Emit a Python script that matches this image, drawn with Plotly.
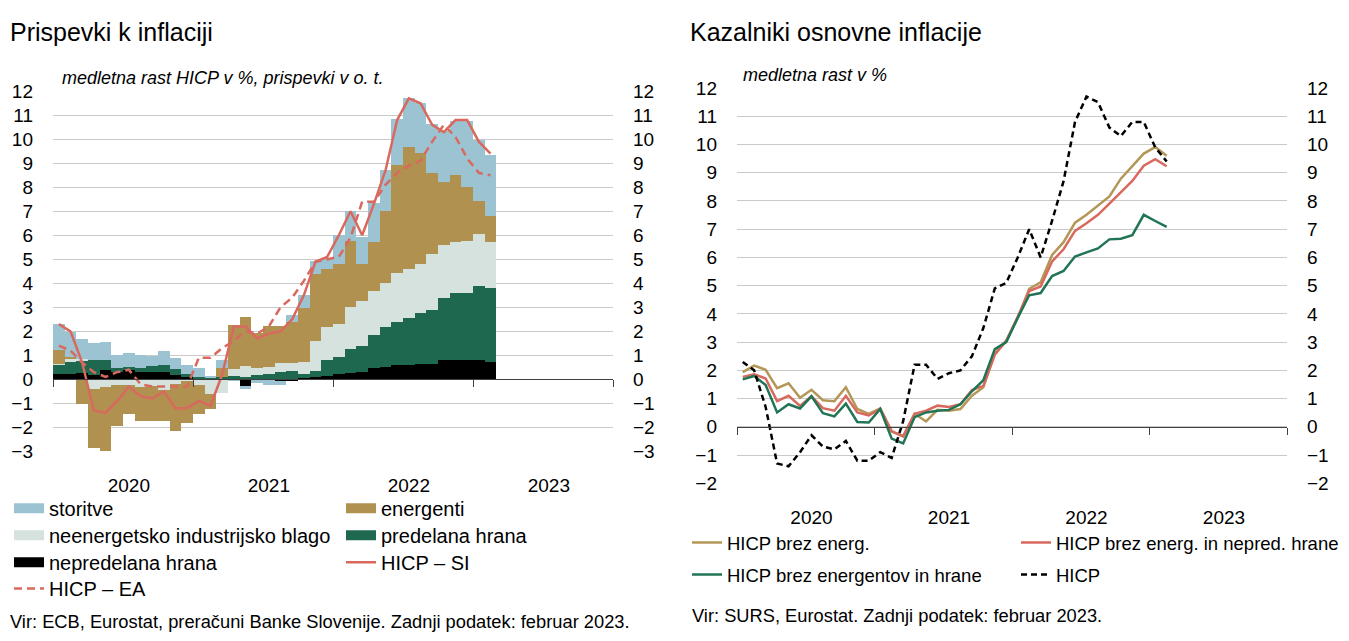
import plotly.graph_objects as go

# ---------------- data ----------------
months = [f"{y}-{m:02d}" for y in (2020, 2021, 2022) for m in range(1, 13)] + ["2023-01", "2023-02"]
year_labels = ["2020", "2021", "2022", "2023"]

# contributions to Slovenian HICP (p.p.)
nepredelana_hrana = [0.20, 0.20, 0.24, 0.17, 0.38, 0.30, 0.38, 0.31, 0.30, 0.28, 0.17, 0.08,
                     0.04, 0.02, 0.03, -0.03, -0.27, -0.05, -0.05, -0.08, -0.10, 0.03, 0.09, 0.13,
                     0.20, 0.27, 0.31, 0.47, 0.50, 0.58, 0.60, 0.63, 0.63, 0.78, 0.78, 0.78,
                     0.81, 0.71]
predelana_hrana = [0.40, 0.51, 0.54, 0.61, 0.40, 0.15, 0.12, 0.15, 0.25, 0.32, 0.23, 0.12,
                   0.06, 0.06, 0.07, 0.12, 0.10, 0.17, 0.22, 0.31, 0.34, 0.20, 0.25, 0.68,
                   0.70, 0.98, 1.06, 1.37, 1.65, 1.81, 1.95, 2.13, 2.26, 2.58, 2.81, 2.81,
                   3.05, 3.09]
neenergetsko_blago = [0.02, 0.14, 0.05, -0.43, -0.34, -0.26, -0.26, -0.34, -0.30, -0.47, -0.20, -0.10,
                      -0.25, -0.63, -0.60, 0.28, 0.45, 0.30, 0.30, 0.34, 0.33, 0.48, 1.23, 1.34,
                      1.38, 1.77, 1.88, 1.83, 1.84, 2.01, 2.02, 2.04, 2.31, 2.22, 2.12, 2.15,
                      2.19, 1.91]
energenti = [0.58, 0.09, -1.05, -2.42, -2.67, -1.70, -1.18, -1.40, -1.45, -1.27, -1.95, -1.74,
             -1.22, -0.61, 0.38, 1.86, 2.02, 1.45, 1.70, 1.57, 1.72, 2.25, 2.80, 2.42,
             2.52, 2.72, 1.55, 2.02, 3.00, 4.50, 5.11, 4.61, 3.40, 2.65, 2.80, 2.28,
             1.38, 1.10]
storitve = [1.08, 1.03, 0.85, 0.74, 0.77, 0.55, 0.59, 0.55, 0.42, 0.56, 0.47, 0.40,
            0.37, 0.02, 0.30, -0.03, -0.13, -0.10, -0.20, -0.15, 0.30, 0.53, 0.53, 0.47,
            1.20, 1.28, 1.11, 1.64, 1.71, 1.92, 2.01, 2.11, 2.02, 2.12, 2.24, 2.73,
            2.52, 2.53]

hicp_si = [2.3, 2.0, 0.7, -1.3, -1.4, -0.9, -0.3, -0.7, -0.8, -0.5, -1.2, -1.2,
           -0.9, -1.1, 0.2, 2.2, 2.2, 1.7, 1.9, 2.0, 2.5, 3.5, 4.9, 5.1,
           6.0, 7.0, 6.0, 7.3, 8.7, 10.8, 11.7, 11.5, 10.6, 10.3, 10.8, 10.8,
           9.9, 9.4]
hicp_ea = [1.4, 1.2, 0.7, 0.3, 0.1, 0.3, 0.4, -0.2, -0.3, -0.3, -0.3, -0.3,
           0.9, 0.9, 1.3, 1.6, 2.0, 1.9, 2.2, 3.0, 3.4, 4.1, 4.9, 5.0,
           5.1, 5.9, 7.4, 7.4, 8.1, 8.6, 8.9, 9.1, 9.9, 10.6, 10.1, 9.2,
           8.6, 8.5]

# core inflation indicators (y/y %)
brez_energ = [1.94, 2.17, 2.02, 1.37, 1.54, 1.03, 1.31, 0.94, 0.91, 1.40, 0.63, 0.46,
              0.65, -0.17, -0.34, 0.46, 0.19, 0.60, 0.57, 0.63, 1.10, 1.40, 2.60, 3.05,
              3.86, 4.89, 5.12, 6.09, 6.54, 7.23, 7.51, 7.82, 8.16, 8.79, 9.23, 9.68,
              9.91, 9.60]
brez_energ_nepred = [1.77, 1.86, 1.71, 0.91, 1.10, 0.74, 1.08, 0.66, 0.57, 1.10, 0.51, 0.40,
                     0.63, -0.15, -0.34, 0.46, 0.57, 0.75, 0.70, 0.80, 1.30, 1.45, 2.55, 3.05,
                     3.90, 4.81, 4.97, 5.86, 6.29, 6.94, 7.21, 7.51, 7.91, 8.31, 8.71, 9.25,
                     9.48, 9.23]
brez_energ_hrane = [1.68, 1.80, 1.48, 0.51, 0.80, 0.65, 1.08, 0.48, 0.37, 0.82, 0.17, 0.15,
                    0.63, -0.42, -0.59, 0.34, 0.51, 0.57, 0.60, 0.80, 1.26, 1.65, 2.75, 3.00,
                    3.86, 4.66, 4.74, 5.34, 5.52, 6.03, 6.18, 6.32, 6.64, 6.66, 6.79, 7.51,
                    7.29, 7.08]

# ---------------- styling ----------------
W, H = 1349, 641
FONT = "Liberation Sans, Arial, sans-serif"
GRID = "#CACACA"
AXIS = "#404040"

C_STOR = "#9BC3D2"
C_ENER = "#B0914F"
C_NEIG = "#D5E2DE"
C_PRED = "#1F6850"
C_NEPR = "#000000"
C_SI = "#D9695F"
C_GOLD = "#B49757"
C_RED = "#D9695F"
C_GREEN = "#217555"

xpos = list(range(len(months)))
year_mid = [12 * k + 6 for k in range(len(year_labels))]
year_edges = [12 * k - 0.5 for k in range(len(year_labels) + 1)]
XR = [-0.5, 12 * len(year_labels) - 0.5]


def px_x(p):
    return p / W


def px_y(p):
    return 1 - p / H


L_dom_x = [px_x(53), px_x(613)]
L_dom_y = [px_y(456.3), px_y(84)]
R_dom_x = [px_x(737), px_x(1287)]
R_dom_y = [px_y(489.3), px_y(80.7)]
L_rng = [-3, 12]
R_rng = [-2, 12]

L_zero = L_dom_y[0] + (0 - L_rng[0]) / (L_rng[1] - L_rng[0]) * (L_dom_y[1] - L_dom_y[0])
R_zero = R_dom_y[0] + (0 - R_rng[0]) / (R_rng[1] - R_rng[0]) * (R_dom_y[1] - R_dom_y[0])

fig = go.Figure()

bars = [
    ("nepredelana hrana", nepredelana_hrana, C_NEPR, "legend3", 1),
    ("predelana hrana", predelana_hrana, C_PRED, "legend2", 2),
    ("neenergetsko industrijsko blago", neenergetsko_blago, C_NEIG, "legend2", 1),
    ("energenti", energenti, C_ENER, "legend", 2),
    ("storitve", storitve, C_STOR, "legend", 1),
]
for name, vals, col, lg, rank in bars:
    fig.add_trace(go.Bar(x=xpos, y=vals, name=name, marker=dict(color=col, line=dict(width=0)),
                         customdata=months, hovertemplate="%{customdata}: %{y}<extra>" + name + "</extra>",
                         legendgroup=name, showlegend=False, xaxis="x", yaxis="y"))
    # legend swatch (wide rectangle like the original)
    fig.add_trace(go.Scatter(x=[None], y=[None], mode="lines", name=name, legendgroup=name,
                             line=dict(color=col, width=10), legend=lg, legendrank=rank,
                             xaxis="x", yaxis="y", hoverinfo="skip"))

fig.add_trace(go.Scatter(x=xpos, y=hicp_ea, mode="lines", name="HICP – EA",
                         line=dict(color=C_SI, width=2.5, dash="8px,5px"),
                         legend="legend4", legendrank=1, customdata=months,
                         hovertemplate="%{customdata}: %{y}<extra>HICP – EA</extra>",
                         xaxis="x", yaxis="y"))
fig.add_trace(go.Scatter(x=xpos, y=hicp_si, mode="lines", name="HICP – SI",
                         line=dict(color=C_SI, width=2.5),
                         legend="legend3", legendrank=2, customdata=months,
                         hovertemplate="%{customdata}: %{y}<extra>HICP – SI</extra>",
                         xaxis="x", yaxis="y"))

# right panel
right = [
    ("HICP brez energ.", brez_energ, C_GOLD, "solid", "legend5", 1),
    ("HICP brez energ. in nepred. hrane", brez_energ_nepred, C_RED, "solid", "legend5", 2),
    ("HICP brez energentov in hrane", brez_energ_hrane, C_GREEN, "solid", "legend6", 1),
    ("HICP", hicp_si, "#000000", "6px,4px", "legend6", 2),
]
for name, vals, col, dash, lg, rank in right:
    fig.add_trace(go.Scatter(x=xpos, y=vals, mode="lines", name=name,
                             line=dict(color=col, width=2.5, dash=dash),
                             legend=lg, legendrank=rank, customdata=months,
                             hovertemplate="%{customdata}: %{y}<extra>" + name + "</extra>",
                             xaxis="x2", yaxis="y3"))

# helper (empty) traces so overlay axes are rendered
for xa, ya in (("x", "y2"), ("x3", "y"), ("x2", "y4"), ("x4", "y3")):
    fig.add_trace(go.Scatter(x=[None], y=[None], xaxis=xa, yaxis=ya, showlegend=False, hoverinfo="skip"))

tickfont = dict(family=FONT, size=19, color="black")

common_y = dict(dtick=1, showgrid=True, gridcolor=GRID, gridwidth=1, zeroline=False,
                ticks="", tickfont=tickfont, ticklabelstandoff=19, showline=False)
common_x = dict(range=XR, tickmode="array", tickvals=year_mid, ticktext=year_labels,
                showgrid=False, zeroline=False, ticks="", showline=False,
                tickfont=tickfont, ticklabelstandoff=21)
edge_x = dict(range=XR, tickmode="array", tickvals=year_edges, ticktext=[""] * len(year_edges),
              showticklabels=False, showgrid=False, zeroline=False, showline=True,
              linecolor=AXIS, linewidth=1, ticks="outside", ticklen=7, tickcolor=AXIS, tickwidth=1,
              anchor="free")

fig.update_layout(
    autosize=True, margin=dict(l=0, r=0, t=0, b=0),
    plot_bgcolor="white", paper_bgcolor="white",
    barmode="relative", bargap=0,
    font=dict(family=FONT, size=19, color="black"),
    xaxis=dict(domain=L_dom_x, anchor="y", **common_x),
    yaxis=dict(domain=L_dom_y, anchor="x", range=L_rng, **common_y),
    yaxis2=dict(overlaying="y", side="right", anchor="x", range=L_rng, dtick=1, showgrid=False,
                zeroline=False, ticks="", tickfont=tickfont, ticklabelstandoff=19),
    xaxis3=dict(overlaying="x", position=L_zero, **edge_x),
    xaxis2=dict(domain=R_dom_x, anchor="y3", **common_x),
    yaxis3=dict(domain=R_dom_y, anchor="x2", range=R_rng, **common_y),
    yaxis4=dict(overlaying="y3", side="right", anchor="x2", range=R_rng, dtick=1, showgrid=False,
                zeroline=False, ticks="", tickfont=tickfont, ticklabelstandoff=19),
    xaxis4=dict(overlaying="x2", position=R_zero, **edge_x),
)

leg_common = dict(orientation="h", xanchor="left", yanchor="middle", bgcolor="rgba(0,0,0,0)",
                  borderwidth=0, traceorder="normal", entrywidthmode="pixels",
                  itemclick=False, itemdoubleclick=False)
LF = dict(family=FONT, size=20, color="black")
RF = dict(family=FONT, size=18.5, color="black")
fig.update_layout(
    legend=dict(x=px_x(9), y=px_y(515), entrywidth=287, font=LF, **leg_common),
    legend2=dict(x=px_x(9), y=px_y(543), entrywidth=287, font=LF, **leg_common),
    legend3=dict(x=px_x(9), y=px_y(571), entrywidth=287, font=LF, **leg_common),
    legend4=dict(x=px_x(9), y=px_y(598), entrywidth=287, font=LF, **leg_common),
    legend5=dict(x=px_x(687), y=px_y(551), entrywidth=284, font=RF, **leg_common),
    legend6=dict(x=px_x(687), y=px_y(584), entrywidth=284, font=RF, **leg_common),
)

annos = [
    ("Prispevki k inflaciji", 8, 23, dict(family=FONT, size=25, color="black")),
    ("Kazalniki osnovne inflacije", 688, 23, dict(family=FONT, size=25, color="black")),
    ("<i>medletna rast HICP v %, prispevki v o. t.</i>", 60, 70, dict(family=FONT, size=18, color="black")),
    ("<i>medletna rast v %</i>", 741, 67, dict(family=FONT, size=18, color="black")),
    ("Vir: ECB, Eurostat, preračuni Banke Slovenije. Zadnji podatek: februar 2023.", 8, 632,
     dict(family=FONT, size=18.3, color="black")),
    ("Vir: SURS, Eurostat. Zadnji podatek: februar 2023.", 690, 626,
     dict(family=FONT, size=18.3, color="black")),
]
for text, x, y, f in annos:
    fig.add_annotation(text=text, x=px_x(x), y=px_y(y), xref="paper", yref="paper",
                       xanchor="left", yanchor="middle", showarrow=False, font=f)

# the plot div is pinned to the top-left corner of the page, sized like the window
fig.write_html("out.html", config={"displayModeBar": False, "responsive": True},
               default_width=f"{W}px",
               default_height=f"{H}px;position:absolute;top:0;left:0")
